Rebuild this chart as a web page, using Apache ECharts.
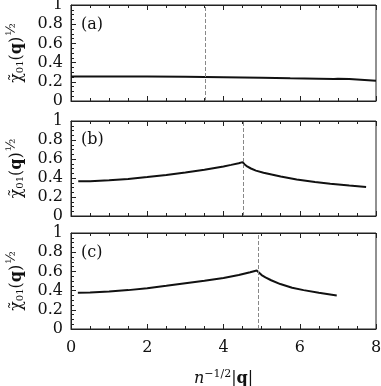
<!DOCTYPE html>
<html>
<head>
<meta charset="utf-8">
<script src="https://cdn.jsdelivr.net/npm/echarts@6/dist/echarts.min.js"></script>
<style>
  html, body { margin: 0; padding: 0; background: #fff; }
  #chart { width: 381px; height: 386px; }
</style>
</head>
<body>
<div id="chart"></div>
<script>
// data: [n^-1/2 |q|, chi01(q)^1/2]
const curveA = [[0, 0.255], [1, 0.255], [2, 0.254], [3, 0.252], [3.5, 0.251], [4, 0.248], [5, 0.242],
  [5.75, 0.236], [6.5, 0.231], [6.9, 0.228], [7.0, 0.232], [7.3, 0.228], [8, 0.211]];
const curveB = [[0.19, 0.365], [0.5, 0.367], [1, 0.376], [1.5, 0.39], [2, 0.41], [2.5, 0.432], [3, 0.458],
  [3.5, 0.487], [4, 0.522], [4.2, 0.538], [4.4, 0.555], [4.5, 0.567], [4.55, 0.545], [4.62, 0.522],
  [4.72, 0.5], [4.85, 0.478], [5.05, 0.455], [5.5, 0.415], [5.92, 0.385], [6.4, 0.358], [6.8, 0.34],
  [7.3, 0.32], [7.74, 0.305]];
const curveC = [[0.18, 0.378], [0.5, 0.38], [1, 0.39], [1.5, 0.405], [2, 0.425], [2.5, 0.45], [3, 0.476],
  [3.5, 0.502], [4, 0.532], [4.4, 0.562], [4.7, 0.592], [4.87, 0.61], [4.92, 0.59], [5.0, 0.562],
  [5.1, 0.538], [5.25, 0.508], [5.49, 0.468], [5.8, 0.43], [6.1, 0.405], [6.5, 0.378], [6.97, 0.35]];
const dashX = [3.53, 4.51, 4.90];
const panelNames = ['(a)', '(b)', '(c)'];
const yTicks = [0, 0.2, 0.4, 0.6, 0.8, 1];
const xTicks = [0, 2, 4, 6, 8];

const chart = echarts.init(document.getElementById('chart'));
const serif = 'DejaVu Serif';
const curves = [curveA, curveB, curveC];
const grids = [
  { left: 71, right: 5, top: 5, height: 96 },
  { left: 71, right: 5, top: 121, height: 95 },
  { left: 71, right: 5, top: 233, height: 96 }
];

let xAxis = [];
let yAxis = [];
let series = [];
grids.forEach((g, i) => {
  g.show = true;
  g.borderColor = '#222';
  g.borderWidth = 1;
  g.containLabel = false;
  g.outerBoundsMode = 'none';
  const isLast = i === grids.length - 1;
  // bottom axis
  xAxis.push({
    type: 'value', gridIndex: i, min: xTicks[0], max: xTicks[xTicks.length - 1], interval: 2,
    position: 'bottom',
    axisLine: { lineStyle: { color: '#222' } },
    axisTick: { inside: true, length: 5, lineStyle: { color: '#222' } },
    minorTick: { show: true, splitNumber: 4, length: 3, lineStyle: { color: '#222' } },
    axisLabel: { show: isLast, color: '#111', fontFamily: serif, fontSize: 16, margin: 11 },
    splitLine: { show: false },
    name: isLast ? '{i|n}{s|\u22121/2}{a||}{b|q}{a||}' : '',
    nameLocation: 'middle', nameGap: 40,
    nameTextStyle: {
      rich: {
        i: { fontFamily: serif, fontStyle: 'italic', fontSize: 16, color: '#111' },
        s: { fontFamily: serif, fontSize: 11, color: '#111', padding: [0, 0, 9, 0] },
        a: { fontFamily: serif, fontSize: 16, color: '#111' },
        b: { fontFamily: serif, fontSize: 16, fontWeight: 'bold', color: '#111' }
      }
    }
  });
  // top axis (ticks only)
  xAxis.push({
    type: 'value', gridIndex: i, min: 0, max: 8, interval: 2, position: 'top',
    axisLine: { lineStyle: { color: '#222' } },
    axisTick: { inside: true, length: 5, lineStyle: { color: '#222' } },
    minorTick: { show: true, splitNumber: 4, length: 3, lineStyle: { color: '#222' } },
    axisLabel: { show: false },
    splitLine: { show: false }
  });
  yAxis.push({
    type: 'value', gridIndex: i, min: 0, max: 1, interval: 0.2,
    axisLine: { lineStyle: { color: '#222' } },
    axisTick: { inside: true, length: 5, lineStyle: { color: '#222' } },
    minorTick: { show: true, splitNumber: 4, length: 3, lineStyle: { color: '#222' } },
    axisLabel: {
      color: '#111', fontFamily: serif, fontSize: 16, margin: 8,
      formatter: v => yTicks.includes(+v.toFixed(1)) ? String(+v.toFixed(1)) : ''
    },
    splitLine: { show: false },
    name: '{a|\u03C7\u0303}{s|01}{a|(}{b|q}{a|)}{p|\u00BD}',
    nameLocation: 'middle', nameRotate: 90, nameGap: 42,
    nameTextStyle: {
      rich: {
        a: { fontFamily: serif, fontSize: 16, color: '#111' },
        s: { fontFamily: serif, fontSize: 10, color: '#111', padding: [7, 0, 0, 0] },
        b: { fontFamily: serif, fontSize: 16, fontWeight: 'bold', color: '#111' },
        p: { fontFamily: serif, fontSize: 13, color: '#111', padding: [0, 0, 11, 1] }
      }
    }
  });
  series.push({
    type: 'line', xAxisIndex: i * 2, yAxisIndex: i,
    data: curves[i], symbol: 'none', smooth: false,
    lineStyle: { color: '#111', width: 2 },
    markLine: {
      silent: true, symbol: 'none', label: { show: false },
      lineStyle: { color: '#888', type: [4, 2], width: 1 },
      data: [{ xAxis: dashX[i] }]
    },
    z: 3
  });
});

const labelTops = [17, 132, 245];
const option = {
  animation: false,
  grid: grids,
  xAxis: xAxis,
  yAxis: yAxis,
  series: series,
  graphic: panelNames.map((t, i) => ({
    type: 'text', left: 81, top: labelTops[i],
    style: { text: t, font: '16px "DejaVu Serif"', fill: '#111' }
  }))
};
chart.setOption(option);
</script>
</body>
</html>
